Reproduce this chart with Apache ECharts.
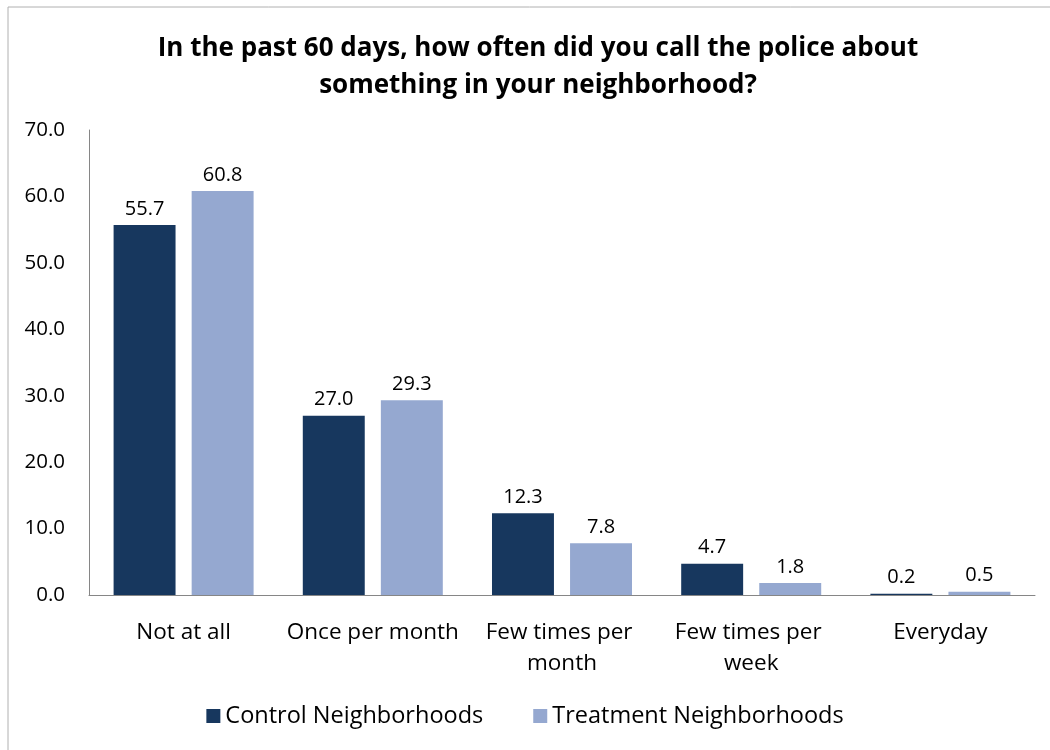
<!DOCTYPE html>
<html>
<head>
<meta charset="utf-8">
<script src="https://cdn.jsdelivr.net/npm/echarts@6/dist/echarts.min.js"></script>
<style>
  html, body { margin: 0; padding: 0; background: #fff; }
  #main { width: 1050px; height: 750px; }
</style>
</head>
<body>
<div id="main"></div>
<script>
const categories = ["Not at all", "Once per month", "Few times per month", "Few times per week", "Everyday"];
const controlValues = [55.7, 27.0, 12.3, 4.7, 0.2];
const treatmentValues = [60.8, 29.3, 7.8, 1.8, 0.5];
const seriesNames = ["Control Neighborhoods", "Treatment Neighborhoods"];

const FONT = "'Open Sans', Lato, sans-serif";
const myChart = echarts.init(document.getElementById("main"));

const option = {
  animation: false,
  textStyle: { fontFamily: FONT },
  title: {
    text: "In the past 60 days, how often did you call the police about\nsomething in your neighborhood?",
    left: 533,
    textAlign: "center",
    top: 25,
    textStyle: { fontSize: 26, fontWeight: "bold", color: "#000", lineHeight: 37, fontFamily: FONT }
  },
  legend: {
    bottom: 17,
    left: "center",
    itemWidth: 14,
    itemHeight: 14,
    itemGap: 50,
    icon: "rect",
    textStyle: { fontSize: 23.5, color: "#000", fontFamily: FONT }
  },
  grid: { left: 89, right: 15, top: 130, bottom: 155 },
  xAxis: {
    type: "category",
    data: categories,
    axisLine: { lineStyle: { color: "#868686" } },
    axisTick: { show: false },
    axisLabel: {
      fontSize: 22.5, color: "#000", margin: 22, lineHeight: 31,
      width: 185, overflow: "break", interval: 0
    }
  },
  yAxis: {
    type: "value",
    min: 0, max: 70, interval: 10,
    axisLine: { show: true, lineStyle: { color: "#868686" } },
    axisTick: { show: false },
    splitLine: { show: false },
    axisLabel: {
      fontSize: 20.5, color: "#000", margin: 24,
      formatter: (v) => v.toFixed(1)
    }
  },
  series: [
    {
      name: seriesNames[0],
      type: "bar",
      data: controlValues,
      barGap: "26%",
      barCategoryGap: "26%",
      itemStyle: { color: "#17375E" },
      label: { show: true, position: "top", distance: 6, fontSize: 20, color: "#000", formatter: (p) => p.value.toFixed(1) }
    },
    {
      name: seriesNames[1],
      type: "bar",
      data: treatmentValues,
      itemStyle: { color: "#95A8D0" },
      label: { show: true, position: "top", distance: 6, fontSize: 20, color: "#000", formatter: (p) => p.value.toFixed(1) }
    }
  ],
  graphic: [
    {
      type: "rect",
      shape: { x: 8, y: 7, width: 1100, height: 800 },
      style: { fill: "none", stroke: "#b0b0b0", lineWidth: 1 },
      silent: true
    }
  ]
};

option && myChart.setOption(option);
</script>
</body>
</html>
